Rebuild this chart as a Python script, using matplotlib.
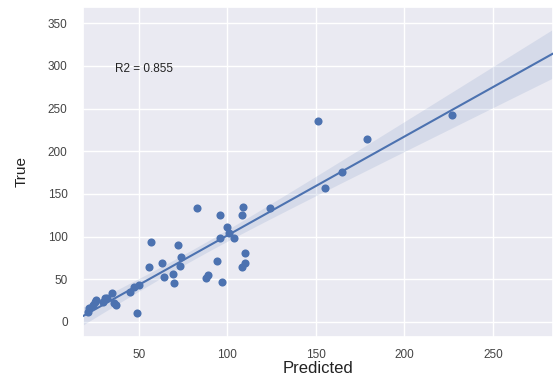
import numpy as np
import matplotlib
matplotlib.use("Agg")
import matplotlib.pyplot as plt
import seaborn as sns

predicted = [21, 24, 26, 30, 32, 35, 37, 36, 45, 47, 50, 49, 22, 25, 31,
             56, 57, 63, 64, 69, 70, 72, 74, 73, 83, 88, 89, 94, 97, 96,
             96, 100, 101, 104, 109, 108, 110, 110, 108, 124,
             151, 179, 165, 155, 227]
true_vals = [12, 20, 26, 23, 28, 34, 20, 22, 35, 41, 43, 10, 16, 23, 28,
             64, 94, 69, 53, 56, 46, 90, 76, 66, 133, 51, 55, 71, 47, 125,
             98, 111, 104, 98, 135, 125, 81, 69, 64, 133,
             235, 214, 176, 157, 243]
r2_label = "R2 = 0.855"

sns.set_theme(style="darkgrid")
plt.rcParams['font.family'] = ['Liberation Sans', 'DejaVu Sans']

fig = plt.figure(figsize=(5.53, 3.79), dpi=100)
ax = fig.add_axes([0.150, 0.111, 0.85, 0.8705])

x = np.array(predicted, float)
y = np.array(true_vals, float)
xlim = (18.4, 284)
ylim = (-17.6, 369)

color = "#4C72B0"
ax.scatter(x, y, s=34, color=color, zorder=3, linewidths=0)

# linear fit with analytic 95% CI
n = len(x)
b1, b0 = np.polyfit(x, y, 1)
xs = np.linspace(xlim[0], xlim[1], 200)
yhat = b0 + b1 * xs
resid = y - (b0 + b1 * x)
s = np.sqrt(np.sum(resid ** 2) / (n - 2))
se = s * np.sqrt(1 / n + (xs - x.mean()) ** 2 / np.sum((x - x.mean()) ** 2))
tval = 1.7
ax.fill_between(xs, yhat - tval * se, yhat + tval * se, color=color, alpha=0.13, linewidth=0, zorder=2)
ax.plot(xs, yhat, color=color, lw=1.5, zorder=4)

ax.set_xlim(*xlim)
ax.set_ylim(*ylim)
ax.set_xticks([50, 100, 150, 200, 250])
ax.set_yticks([0, 50, 100, 150, 200, 250, 300, 350])
ax.tick_params(labelsize=8.5, colors="#444444", pad=5)
ax.tick_params(axis="x", pad=3)
ax.set_xlabel("Predicted", fontsize=12, labelpad=0, color="#222222")
ax.set_ylabel("True", fontsize=11, labelpad=14, color="#222222")

ax.text(36.4, 296, r2_label, fontsize=8.5, va="center", ha="left", color="#222222")

fig.savefig("out.png", dpi=100)
